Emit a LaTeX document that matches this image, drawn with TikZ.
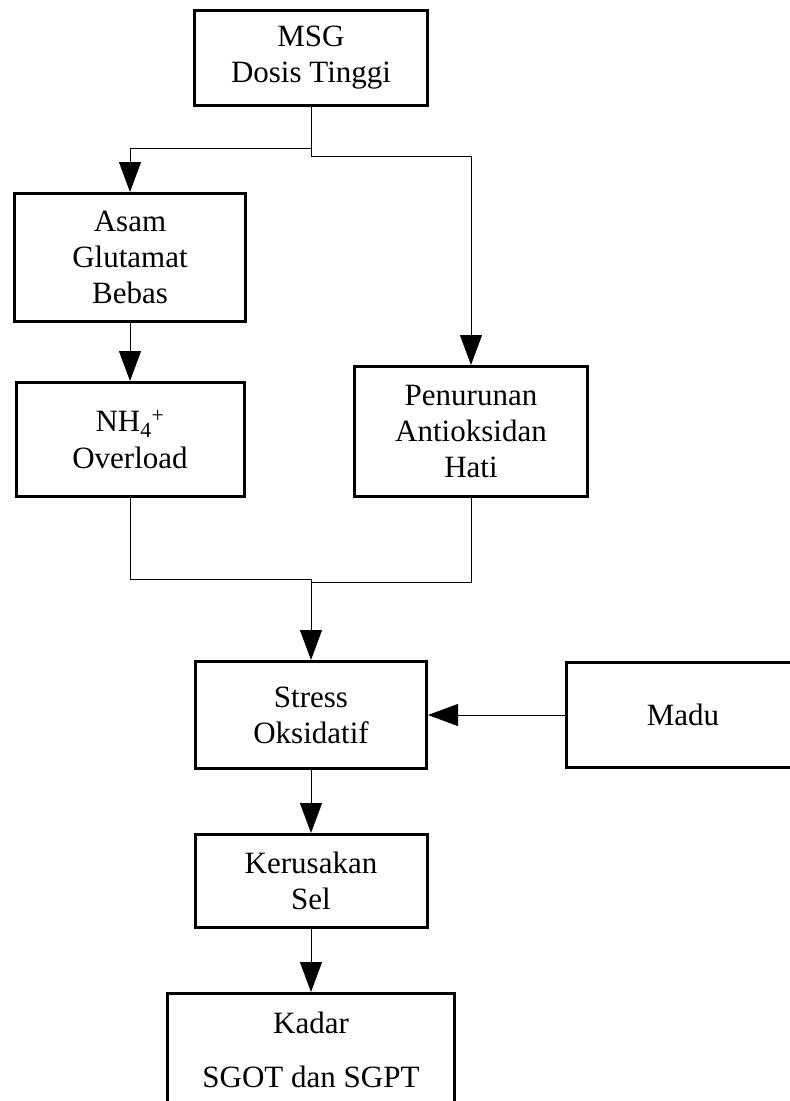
\documentclass[tikz,border=0pt]{standalone}
\usepackage{fontspec}
\setmainfont{Liberation Serif}
\usetikzlibrary{arrows.meta}
\begin{document}
\begin{tikzpicture}[x=1pt,y=-1pt,
  box/.style={draw, line width=3pt, align=center, inner sep=0pt, font=\fontsize{31}{36}\selectfont},
  conn/.style={line width=1pt},
  arr/.style={conn, -{Triangle[length=30pt,width=22pt]}}]
\useasboundingbox (0,0) rectangle (790,1101);
\clip (0,0) rectangle (790,1101);
\node[box, minimum width=233pt, minimum height=95pt] (msg) at (311,58) {MSG\\Dosis Tinggi};
\node[box, minimum width=231pt, minimum height=128pt] (asam) at (130,257.5) {Asam\\Glutamat\\Bebas};
\node[box, minimum width=228pt, minimum height=114pt] (nh4) at (130,439.5) {NH\textsubscript{4}\textsuperscript{+}\\Overload};
\node[box, minimum width=233pt, minimum height=130pt] (pen) at (471,431.5) {Penurunan\\Antioksidan\\Hati};
\node[box, minimum width=231pt, minimum height=107pt] (stress) at (311,715) {Stress\\Oksidatif};
\node[box, minimum width=233pt, minimum height=105pt] (madu) at (683,715) {Madu};
\node[box, minimum width=232pt, minimum height=93pt] (ker) at (311,881) {Kerusakan\\Sel};
\node[box, minimum width=287pt, minimum height=113pt] (kadar) at (311,1050) {Kadar\\[18pt]SGOT dan SGPT};
\coordinate (j1) at (311,148);
\coordinate (j2) at (311,156);
\coordinate (m1) at (311,579);
\coordinate (m2) at (311,582);
\draw[arr] (msg.south) -- (j1) -| (asam.north);
\draw[arr] (msg.south) -- (j2) -| (pen.north);
\draw[arr] (asam.south) -- (nh4.north);
\draw[conn] (nh4.south) |- (m1);
\draw[conn] (pen.south) |- (m2);
\draw[arr] (m1) -- (stress.north);
\draw[arr] (madu.west) -- (stress.east);
\draw[arr] (stress.south) -- (ker.north);
\draw[arr] (ker.south) -- (kadar.north);
\end{tikzpicture}
\end{document}
